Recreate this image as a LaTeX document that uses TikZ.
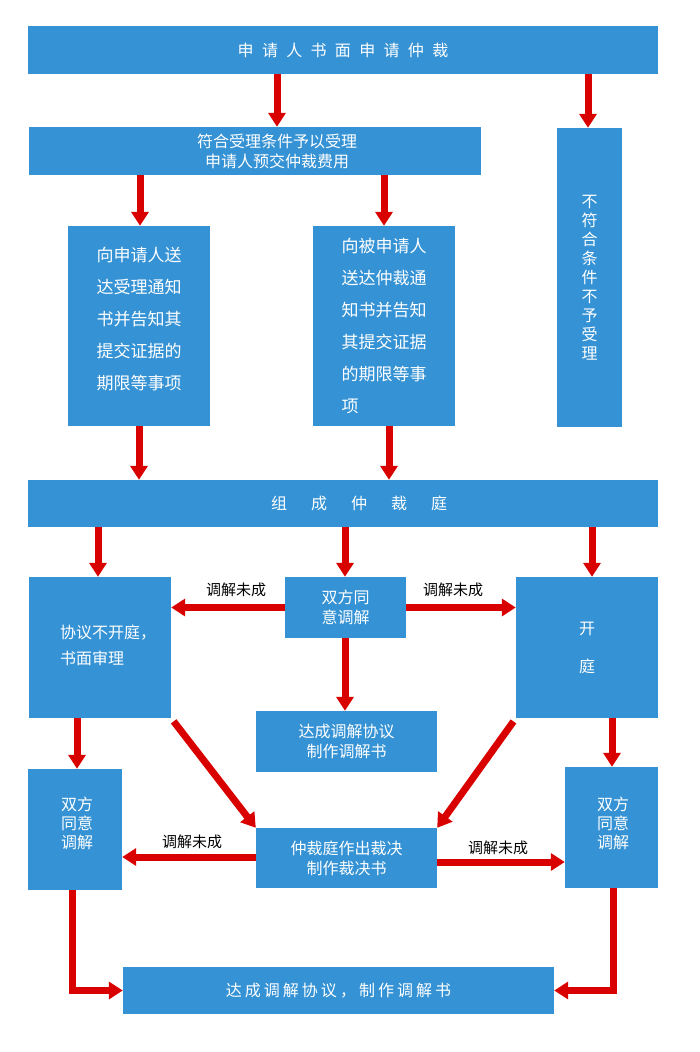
\documentclass[tikz,border=0pt]{standalone}
\usepackage{fontspec}
\setmainfont{Noto Sans CJK SC}
\usetikzlibrary{arrows.meta}
\definecolor{bxblue}{RGB}{52,146,213}
\definecolor{arred}{RGB}{217,0,0}
\begin{document}
\begin{tikzpicture}[x=1pt,y=-1pt,
  bx/.style={fill=bxblue,text=white,inner sep=0pt,font=\fontsize{16}{20}\selectfont},
  wt/.style={text=white,inner sep=0pt},
  arr/.style={draw=arred,line width=7pt,-{Triangle[width=17pt,length=14pt]}},
  lbl/.style={text=black,inner sep=0pt,font=\fontsize{15}{18}\selectfont}]
\useasboundingbox (0,0) rectangle (700,1052);
% boxes
\node[bx,minimum width=630pt,minimum height=48pt] (top) at (343,50)
  {\addfontfeatures{LetterSpace=52}申请人书面申请仲裁};
\node[bx,minimum width=452pt,minimum height=48pt] (b2) at (255,151) {};
\node[wt,align=center,font=\fontsize{16}{20}\selectfont] (b2t) at (277,151)
  {符合受理条件予以受理\\申请人预交仲裁费用};
\node[bx,minimum width=65pt,minimum height=299pt,align=center,
  font=\fontsize{16}{19}\selectfont] (nocond) at (589.5,277.5)
  {不\\符\\合\\条\\件\\不\\予\\受\\理};
\node[bx,minimum width=142pt,minimum height=200pt] (lbox) at (139,326) {};
\node[wt,align=center,font=\fontsize{17}{32}\selectfont] (lboxt) at (139,319)
  {向申请人送\\达受理通知\\书并告知其\\提交证据的\\期限等事项};
\node[bx,minimum width=142pt,minimum height=200pt,align=left,
  font=\fontsize{17}{32}\selectfont] (mbox) at (384,326)
  {向被申请人\\送达仲裁通\\知书并告知\\其提交证据\\的期限等事\\项};
\node[bx,minimum width=630pt,minimum height=47pt] (tri) at (343,503.5) {};
\node[wt,font=\fontsize{16}{20}\selectfont] (trit) at (359,503.5)
  {组\hspace{24pt}成\hspace{24pt}仲\hspace{24pt}裁\hspace{24pt}庭};
\node[bx,minimum width=142pt,minimum height=141pt] (xieyi) at (100,647.5) {};
\node[wt,align=left,anchor=west,font=\fontsize{16}{26}\selectfont] (xieyit) at (60,645)
  {协议不开庭，\\书面审理};
\node[bx,minimum width=121pt,minimum height=61pt,align=center] (mid) at (345.5,607.5)
  {双方同\\意调解};
\node[bx,minimum width=142pt,minimum height=141pt,align=center,
  font=\fontsize{16}{38}\selectfont] (kt) at (587,647.5) {开\\庭};
\node[bx,minimum width=181pt,minimum height=61pt,align=center] (agree) at (346.5,741.5)
  {达成调解协议\\制作调解书};
\node[bx,minimum width=94pt,minimum height=121pt] (lmed) at (75,829.5) {};
\node[wt,align=center,font=\fontsize{16}{19}\selectfont] (lmedt) at (77,823.5)
  {双方\\同意\\调解};
\node[bx,minimum width=181pt,minimum height=60pt,align=center] (cj) at (346.5,858)
  {仲裁庭作出裁决\\制作裁决书};
\node[bx,minimum width=93pt,minimum height=121pt] (rmed) at (611.5,827.5) {};
\node[wt,align=center,font=\fontsize{16}{19}\selectfont] (rmedt) at (613,823)
  {双方\\同意\\调解};
\node[bx,minimum width=431pt,minimum height=47pt] (final) at (338.5,990.5)
  {\addfontfeatures{LetterSpace=19}达成调解协议，制作调解书};
% labels
\node[lbl] (l1) at (236,590) {调解未成};
\node[lbl] (l2) at (453,590) {调解未成};
\node[lbl] (l3) at (192,842) {调解未成};
\node[lbl] (l4) at (498,848) {调解未成};
% arrows
\draw[arr] (top.south -| 277,0) -- (b2.north -| 277,0);
\draw[arr] (top.south -| 588,0) -- (nocond.north -| 588,0);
\draw[arr] (b2.south -| 140,0) -- (lbox.north -| 140,0);
\draw[arr] (b2.south -| 384,0) -- (mbox.north -| 384,0);
\draw[arr] (lbox.south -| 139,0) -- (tri.north -| 139,0);
\draw[arr] (mbox.south -| 389,0) -- (tri.north -| 389,0);
\draw[arr] (tri.south -| 98,0) -- (xieyi.north -| 98,0);
\draw[arr] (tri.south -| 345,0) -- (mid.north -| 345,0);
\draw[arr] (tri.south -| 592,0) -- (kt.north -| 592,0);
\draw[arr] (mid.west) -- (mid.west -| xieyi.east);
\draw[arr] (mid.east) -- (mid.east -| kt.west);
\draw[arr] (mid.south -| 345,0) -- (agree.north -| 345,0);
\draw[arr] (xieyi.south -| 77,0) -- (lmed.north -| 77,0);
\draw[arr] (kt.south -| 612,0) -- (rmed.north -| 612,0);
\draw[arr,shorten <=4pt] (xieyi.south east) -- (cj.north west);
\draw[arr,shorten <=4pt] (kt.south west) -- (cj.north east);
\draw[arr] (cj.west |- 0,857) -- (lmed.east |- 0,857);
\draw[arr] (cj.east |- 0,862) -- (rmed.west |- 0,862);
\draw[arr] (lmed.south -| 72,0) |- (final.west);
\draw[arr] (rmed.south -| 613,0) |- (final.east);
\end{tikzpicture}
\end{document}
